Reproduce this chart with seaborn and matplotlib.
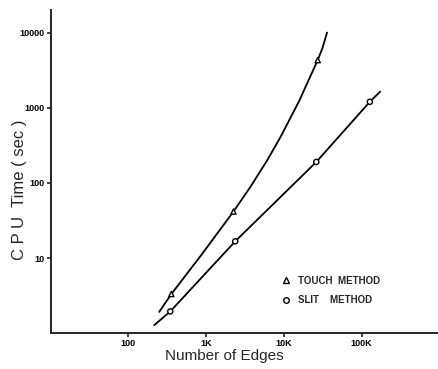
import numpy as np
import pandas as pd
import matplotlib
matplotlib.use("Agg")
import matplotlib.pyplot as plt
from matplotlib.lines import Line2D
import seaborn as sns

sns.set_style("ticks")
plt.rcParams["font.family"] = ["Liberation Sans", "DejaVu Sans"]

touch_x = [357, 2250, 27300]
touch_y = [3.32, 41.6, 4300]
slit_x = [346, 2370, 26200, 128000]
slit_y = [1.95, 16.7, 190, 1200]

# hand-drawn trend curves, sampled along the drawn line
touch_curve_x = [249, 357, 891, 2250, 3730, 6130, 9100, 15700, 27300, 31600, 36000]
touch_curve_y = [1.92, 3.32, 11.4, 41.6, 89, 201, 411, 1220, 4300, 6310, 10000]
slit_curve_x = [215, 346, 2370, 26200, 128000, 174000]
slit_curve_y = [1.28, 1.95, 16.7, 190, 1200, 1640]

x_ticks = [100, 1000, 10000, 100000]
x_labels = ["100", "1K", "10K", "100K"]
y_ticks = [10, 100, 1000, 10000]
y_labels = ["10", "100", "1000", "10000"]

curves = pd.concat([
    pd.DataFrame({"edges": touch_curve_x, "cpu": touch_curve_y, "method": "TOUCH"}),
    pd.DataFrame({"edges": slit_curve_x, "cpu": slit_curve_y, "method": "SLIT"}),
])
points = pd.concat([
    pd.DataFrame({"edges": touch_x, "cpu": touch_y, "method": "TOUCH"}),
    pd.DataFrame({"edges": slit_x, "cpu": slit_y, "method": "SLIT"}),
])

fig = plt.figure(figsize=(4.39, 3.69), dpi=100)
ax = fig.add_axes([0.1155, 0.097, 0.885, 0.876])

sns.lineplot(data=curves, x="edges", y="cpu", units="method", estimator=None,
             sort=False, color="black", lw=1.3, ax=ax, legend=False)
sns.scatterplot(data=points, x="edges", y="cpu", style="method",
                markers={"TOUCH": "^", "SLIT": "o"}, s=14, facecolor="white",
                edgecolor="black", linewidth=1.0, zorder=3, ax=ax, legend=False)

ax.set_xscale("log")
ax.set_yscale("log")
ax.set_xlim(10, 1.0e6)
ax.set_ylim(1.0, 20000)
ax.set_xticks(x_ticks)
ax.set_xticklabels(x_labels)
ax.set_yticks(y_ticks)
ax.set_yticklabels(y_labels)
ax.minorticks_off()
ax.tick_params(axis="both", length=3, width=1.2, pad=1.5, labelsize=6.5,
               labelcolor="black")
for lab in ax.get_xticklabels() + ax.get_yticklabels():
    lab.set_fontweight("bold")

for side in ["top", "right"]:
    ax.spines[side].set_visible(False)
for side in ["left", "bottom"]:
    ax.spines[side].set_linewidth(1.4)

ax.set_xlabel("Number of Edges", fontsize=11)
ax.xaxis.set_label_coords(0.448, -0.05)
ax.set_ylabel("C P U  Time ( sec )", fontsize=12)
ax.yaxis.set_label_coords(-0.062, 0.445)

handles = [
    Line2D([], [], ls="", marker="^", ms=4, mfc="white", mec="black", mew=1.0),
    Line2D([], [], ls="", marker="o", ms=4, mfc="white", mec="black", mew=1.0),
]
ax.legend(handles, ["TOUCH  METHOD", "SLIT    METHOD"],
          loc="upper left", bbox_to_anchor=(0.574, 0.205), frameon=False,
          handlelength=0.8, handletextpad=0.8, labelspacing=1.0,
          prop={"size": 7, "weight": "bold"})

fig.savefig("out.png", dpi=100)
